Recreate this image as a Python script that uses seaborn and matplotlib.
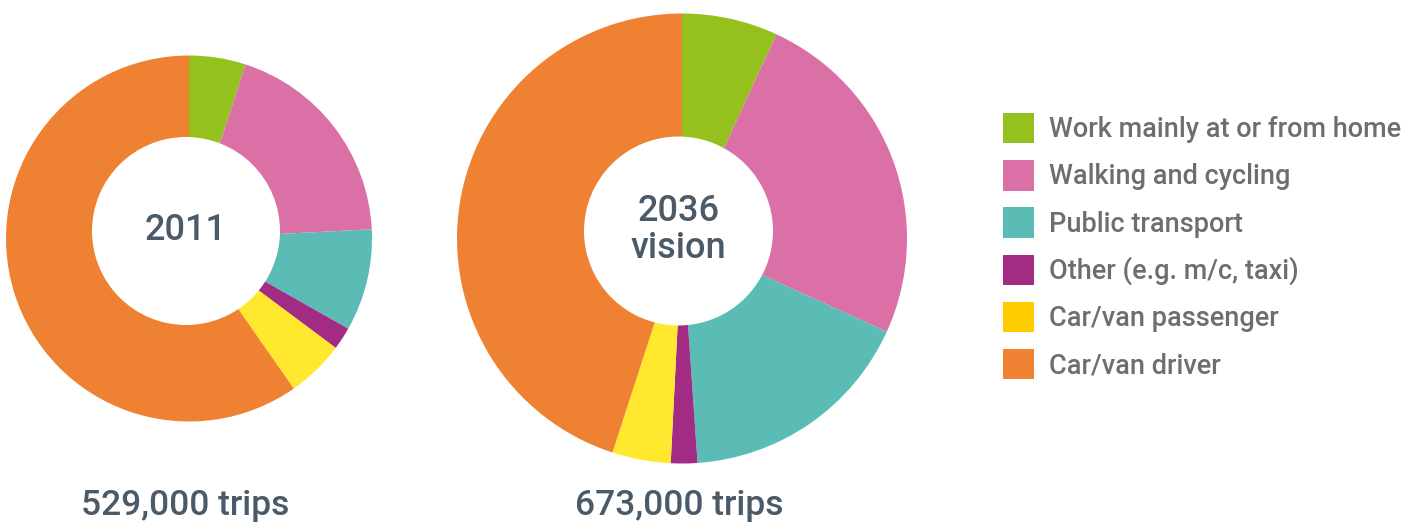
import matplotlib
matplotlib.use("Agg")
import matplotlib.pyplot as plt
from matplotlib.patches import Patch, Circle
import seaborn as sns

sns.set_theme(style="white")
plt.rcParams["font.family"] = ["Roboto", "DejaVu Sans"]

# Travel mode shares (%) for the two scenarios
modes = [
    "Work mainly at or from home",
    "Walking and cycling",
    "Public transport",
    "Other (e.g. m/c, taxi)",
    "Car/van passenger",
    "Car/van driver",
]
share_2011 = [5.0, 19.2, 9.0, 2.0, 5.1, 59.7]
share_2036 = [6.9, 24.9, 17.1, 1.9, 4.2, 45.0]
centre_labels = ["2011", "2036\nvision"]
trip_labels = ["529,000 trips", "673,000 trips"]

slice_colors = ["#95C11F", "#DB70A7", "#5BBCB5", "#A22C84", "#FFE82D", "#EF8232"]
legend_colors = ["#95C11F", "#DB70A7", "#5BBCB5", "#A22C84", "#FFCC00", "#EF8232"]
title_color = "#4A5A68"
legend_text_color = "#6D6E71"

W, H = 1421, 527
fig = plt.figure(figsize=(W / 100, H / 100), dpi=100)
ax = fig.add_axes([0, 0, 1, 1])

# ring geometry in pixel units
rings = [
    dict(values=share_2011, center=(189, 288.5), radius=183, hole=(186, 296), hole_r=94, label_x=185),
    dict(values=share_2036, center=(682, 288.5), radius=225, hole=(678.5, 296), hole_r=94.5, label_x=679),
]

for ring, centre_text, trips in zip(rings, centre_labels, trip_labels):
    ax.pie(ring["values"], colors=slice_colors, startangle=90, counterclock=False,
           center=ring["center"], radius=ring["radius"],
           wedgeprops=dict(linewidth=0), frame=True)
    ax.add_patch(Circle(ring["hole"], ring["hole_r"], facecolor="white", edgecolor="none", zorder=3))
    ax.text(ring["hole"][0], ring["hole"][1] + 1, centre_text, ha="center", va="center",
            fontsize=26, fontweight="medium", color=title_color, linespacing=1.05, zorder=4)
    ax.text(ring["label_x"], 527 - 505, trips, ha="center", va="center",
            fontsize=25.5, fontweight="medium", color=title_color)

ax.set_xlim(0, W)
ax.set_ylim(0, H)
ax.set_aspect("equal")
ax.axis("off")

handles = [Patch(facecolor=c, edgecolor="none") for c in legend_colors]
fig.legend(handles, modes, loc="upper left", bbox_to_anchor=(1003 / W, 1 - 113 / H),
           frameon=False, prop=dict(size=19.5, weight="medium"), labelcolor=legend_text_color,
           handlelength=1.15, handleheight=1.35, handletextpad=0.55,
           labelspacing=0.62, borderpad=0, borderaxespad=0)

fig.savefig("out.png", dpi=100, facecolor="white")
